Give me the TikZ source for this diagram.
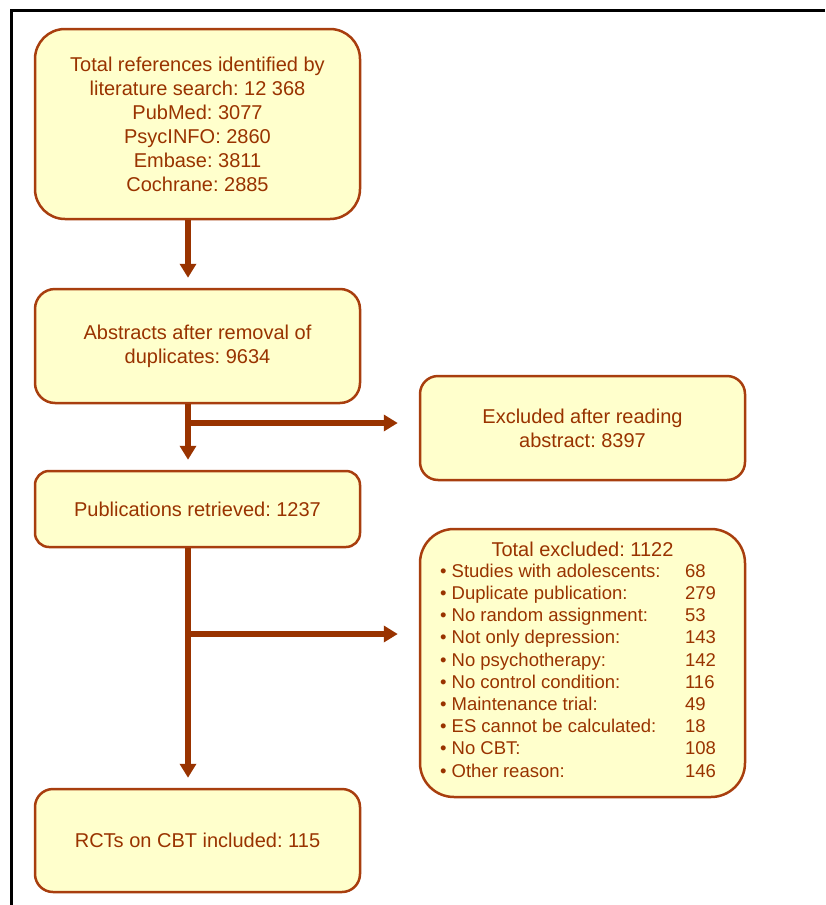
\documentclass[tikz,border=0pt]{standalone}
\usepackage{fontspec}
\setmainfont{Liberation Sans}
\frenchspacing
\definecolor{flow_brown}{RGB}{153, 51, 0}
\definecolor{flow_edge}{RGB}{168, 62, 14}
\definecolor{flow_fill}{RGB}{255, 255, 204}
\usetikzlibrary{arrows.meta, positioning, calc}

\begin{document}
\begin{tikzpicture}[
        x=1pt, y=-1pt,
        box/.style={draw=flow_edge, fill=flow_fill, line width=2.5pt,
                    minimum width=325pt, text=flow_brown, inner sep=0pt,
                    font=\fontsize{20}{24}\selectfont, align=center},
        arr/.style={-{Triangle[length=14pt, width=16pt]}, flow_brown,
                    line width=6pt},
        frame/.style={black, line width=3pt},
      ]
        \useasboundingbox (0,0) rectangle (825,905);
        \draw[frame] (825,10.5) -| (11.3,905);
        % left column
        \node[box, minimum height=190pt, rounded corners=30pt] (refs)
          at (197.5,124)
          {Total references identified by\\ literature search: 12 368\\
           PubMed: 3077\\ PsycINFO: 2860\\ Embase: 3811\\ Cochrane: 2885};
        \node[box, minimum height=114pt, rounded corners=20pt] (abstracts)
          at (197.5,346) {Abstracts after removal of\\ duplicates: 9634};
        \node[box, minimum height=76pt, rounded corners=14pt] (retrieved)
          at (197.5,509) {Publications retrieved: 1237};
        \node[box, minimum height=103pt, rounded corners=18pt] (included)
          at (197.5,840.5) {RCTs on CBT included: 115};
        % right column
        \node[box, minimum height=104pt, rounded corners=18pt] (exclabs)
          at (582.5,428) {Excluded after reading\\ abstract: 8397};
        \node[box, minimum height=268pt, rounded corners=34pt] (exclall)
          at (582.5,663)
          {Total excluded: 1122\\[4pt]
           \fontsize{18.5}{22.2}\selectfont
           \begin{tabular}{@{}p{245pt}@{}l@{}}
             • Studies with adolescents: & 68\\
             • Duplicate publication: & 279\\
             • No random assignment: & 53\\
             • Not only depression: & 143\\
             • No psychotherapy: & 142\\
             • No control condition: & 116\\
             • Maintenance trial: & 49\\
             • ES cannot be calculated: & 18\\
             • No CBT: & 108\\
             • Other reason: & 146\\
           \end{tabular}\hspace*{9pt}};
        \coordinate (fork1) at (188,423);
        \coordinate (fork2) at (188,634);
        \draw[arr, shorten >=10pt] ([xshift=-9.5pt]refs.south)
          -- ([xshift=-9.5pt]abstracts.north);
        \draw[arr, shorten >=10pt] ([xshift=-9.5pt]abstracts.south)
          -- ([xshift=-9.5pt]retrieved.north);
        \draw[arr, shorten >=10pt] ([xshift=-9.5pt]retrieved.south)
          -- ([xshift=-9.5pt]included.north);
        \draw[arr, shorten >=21pt] (fork1) -- (fork1 -| exclabs.west);
        \draw[arr, shorten >=21pt] (fork2) -- (fork2 -| exclall.west);
      \end{tikzpicture}
\end{document}
